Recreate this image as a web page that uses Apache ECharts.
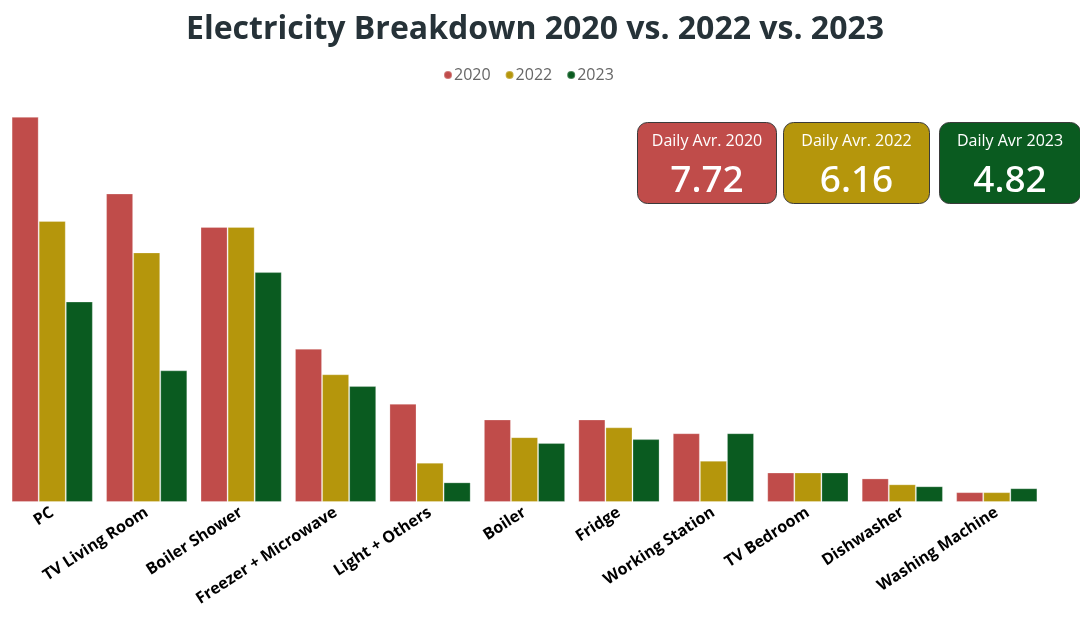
<!DOCTYPE html>
<html>
<head>
<meta charset="utf-8">
<script src="https://cdn.jsdelivr.net/npm/echarts@6/dist/echarts.min.js"></script>
<style>
  html, body { margin: 0; padding: 0; background: #ffffff; }
  #chart { width: 1080px; height: 617px; }
</style>
</head>
<body>
<div id="chart"></div>
<script>
// Daily electricity use per appliance (kWh)
const categories = ['PC', 'TV Living Room', 'Boiler Shower', 'Freezer + Microwave', 'Light + Others',
  'Boiler', 'Fridge', 'Working Station', 'TV Bedroom', 'Dishwasher', 'Washing Machine'];
const years = ['2020', '2022', '2023'];
const values2020 = [1.96, 1.57, 1.40, 0.78, 0.50, 0.42, 0.42, 0.35, 0.15, 0.12, 0.05];
const values2022 = [1.43, 1.27, 1.40, 0.65, 0.20, 0.33, 0.38, 0.21, 0.15, 0.09, 0.05];
const values2023 = [1.02, 0.67, 1.17, 0.59, 0.10, 0.30, 0.32, 0.35, 0.15, 0.08, 0.07];
const cardTitles = ['Daily Avr. 2020', 'Daily Avr. 2022', 'Daily Avr 2023'];

const colors = ['#C04C4A', '#B5960C', '#0A5B20'];
const seriesValues = [values2020, values2022, values2023];
// each card shows the daily total of its year
const totals = seriesValues.map(a => a.reduce((s, v) => s + v, 0).toFixed(2));

// KPI cards in the upper right
const cardBoxes = [
  { x: 637, w: 139 },
  { x: 783, w: 146 },
  { x: 939, w: 141 }
];
const cardTop = 122, cardH = 81;
const cards = cardBoxes.map((b, i) => ({
  type: 'group',
  left: b.x,
  top: cardTop,
  children: [
    { type: 'rect', shape: { x: 0, y: 0, width: b.w, height: cardH, r: 10 },
      style: { fill: colors[i], stroke: '#3a3a3a', lineWidth: 1 } },
    { type: 'text', x: b.w / 2, y: 19,
      style: { text: cardTitles[i], fill: '#ffffff', font: '16px "Open Sans", sans-serif',
        align: 'center', verticalAlign: 'middle' } },
    { type: 'text', x: b.w / 2, y: 59,
      style: { text: totals[i], fill: '#ffffff', font: '500 37px "Noto Sans", sans-serif',
        align: 'center', verticalAlign: 'middle' } }
  ]
}));

const chart = echarts.init(document.getElementById('chart'), null, { renderer: 'canvas' });
chart.setOption({
  backgroundColor: '#ffffff',
  animation: false,
  title: {
    text: 'Electricity Breakdown 2020 vs. 2022 vs. 2023',
    left: 181,
    top: 9,
    textStyle: { fontFamily: 'Open Sans', fontWeight: 'bold', fontSize: 32, color: '#263238' }
  },
  legend: {
    top: 62,
    left: 438,
    icon: 'circle',
    itemWidth: 8,
    itemHeight: 8,
    itemGap: 14,
    textStyle: { fontFamily: 'Open Sans', fontSize: 16, color: '#666666', padding: [0, 0, 0, -3] },
    data: years
  },
  grid: { left: 5, right: 36, top: 109, bottom: 115, containLabel: false },
  xAxis: {
    type: 'category',
    data: categories,
    axisLine: { show: false },
    axisTick: { show: false },
    axisLabel: {
      interval: 0,
      rotate: 33,
      margin: 9,
      fontFamily: 'Open Sans',
      fontWeight: 'bold',
      fontSize: 16,
      color: '#000000'
    }
  },
  yAxis: {
    type: 'value',
    min: 0,
    max: 2,
    show: false,
    splitLine: { show: false }
  },
  series: years.map((y, i) => ({
    name: y,
    type: 'bar',
    data: seriesValues[i],
    barGap: '0%',
    barCategoryGap: '14%',
    itemStyle: { color: colors[i], borderColor: 'rgba(255,255,255,0.25)', borderWidth: 1 }
  })),
  graphic: cards
});
</script>
</body>
</html>
